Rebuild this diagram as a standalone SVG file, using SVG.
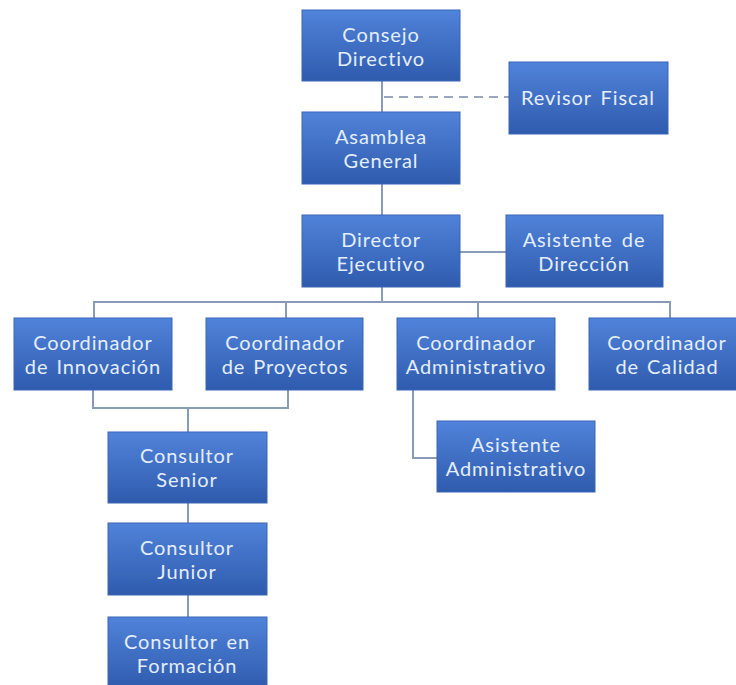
<svg xmlns="http://www.w3.org/2000/svg" width="736" height="685" viewBox="0 0 736 685">
<defs>
<linearGradient id="g" x1="0" y1="0" x2="0" y2="1">
<stop offset="0" stop-color="#5083da"/>
<stop offset="1" stop-color="#2f5bad"/>
</linearGradient>
<style>
.box{fill:url(#g);stroke:#3b66b5;stroke-width:1}
.t{font-family:Lato,"Open Sans","Liberation Sans",sans-serif;font-size:20px;fill:#e3eeff;text-anchor:middle;letter-spacing:0.9px}
.c{fill:none;stroke:#8a9bb8;stroke-width:2}
.d{fill:none;stroke:#9aa6bb;stroke-width:2;stroke-dasharray:9 6}
</style>
</defs>
<rect width="736" height="685" fill="#ffffff"/>
<g id="connectors">
<path class="c" d="M382 81V112M382 184V215M382 287V302"/>
<path class="d" d="M384 97H509"/>
<path class="c" d="M460 252H506"/>
<path class="c" d="M94 318V302H670V318M286 302V318M478 302V318"/>
<path class="c" d="M93 390V408H288V390M188 408V432"/>
<path class="c" d="M413 390V458H437"/>
<path class="c" d="M188 503V523M188 595V617"/>
</g>
<g id="consejo"><rect class="box" x="302" y="10" width="158" height="71"/><text class="t" x="381" y="42">Consejo</text><text class="t" x="381" y="66">Directivo</text></g>
<g id="revisor"><rect class="box" x="509" y="62" width="159" height="72"/><text class="t" x="588" y="105" word-spacing="3">Revisor Fiscal</text></g>
<g id="asamblea"><rect class="box" x="302" y="112" width="158" height="72"/><text class="t" x="381" y="144">Asamblea</text><text class="t" x="381" y="168">General</text></g>
<g id="director"><rect class="box" x="302" y="215" width="158" height="72"/><text class="t" x="381" y="247">Director</text><text class="t" x="381" y="271">Ejecutivo</text></g>
<g id="asistente-direccion"><rect class="box" x="506" y="215" width="157" height="72"/><text class="t" x="584" y="247" word-spacing="3">Asistente de</text><text class="t" x="584" y="271">Dirección</text></g>
<g id="coord-innovacion"><rect class="box" x="14" y="318" width="158" height="72"/><text class="t" x="93" y="350">Coordinador</text><text class="t" x="93" y="374" word-spacing="2">de Innovación</text></g>
<g id="coord-proyectos"><rect class="box" x="206" y="318" width="157" height="72"/><text class="t" x="285" y="350">Coordinador</text><text class="t" x="285" y="374" word-spacing="2">de Proyectos</text></g>
<g id="coord-administrativo"><rect class="box" x="397" y="318" width="158" height="72"/><text class="t" x="476" y="350">Coordinador</text><text class="t" x="476" y="374">Administrativo</text></g>
<g id="coord-calidad"><rect class="box" x="589" y="318" width="158" height="72"/><text class="t" x="667" y="350">Coordinador</text><text class="t" x="667" y="374" word-spacing="2">de Calidad</text></g>
<g id="asistente-administrativo"><rect class="box" x="437" y="421" width="158" height="71"/><text class="t" x="516" y="452">Asistente</text><text class="t" x="516" y="476">Administrativo</text></g>
<g id="consultor-senior"><rect class="box" x="108" y="432" width="159" height="71"/><text class="t" x="187" y="463">Consultor</text><text class="t" x="187" y="487">Senior</text></g>
<g id="consultor-junior"><rect class="box" x="108" y="523" width="159" height="72"/><text class="t" x="187" y="555">Consultor</text><text class="t" x="187" y="579">Junior</text></g>
<g id="consultor-formacion"><rect class="box" x="108" y="617" width="159" height="72"/><text class="t" x="187" y="649" word-spacing="3">Consultor en</text><text class="t" x="187" y="673">Formación</text></g>
</svg>
